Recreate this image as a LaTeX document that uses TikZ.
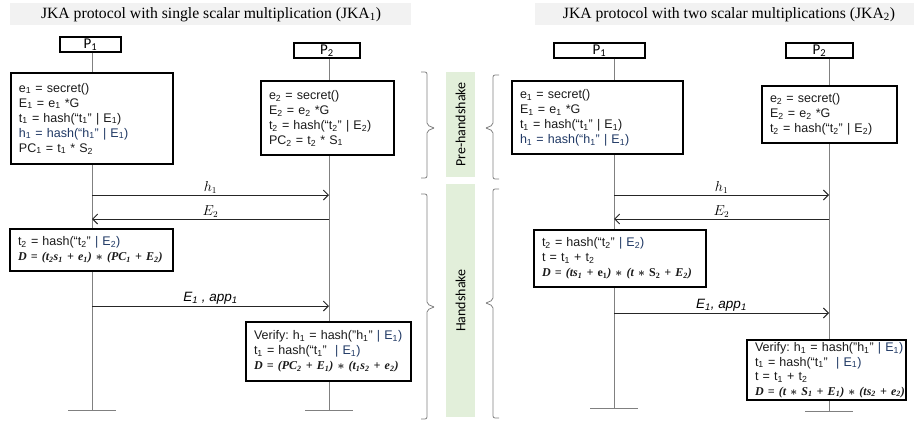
\documentclass[tikz,border=0pt]{standalone}
\usepackage[no-math]{fontspec}
\setmainfont{Liberation Sans}
\newfontfamily\titlefont{Liberation Serif}
\newfontfamily\mfont{Liberation Serif}
\newfontfamily\calfont{Carlito}
\usetikzlibrary{arrows.meta}
\definecolor{navy}{HTML}{1F3864}
\definecolor{bandgray}{HTML}{F2F2F2}
\definecolor{lightgreen}{HTML}{E2EFDA}
\definecolor{lifegray}{HTML}{808080}
\definecolor{txt}{HTML}{1A1A1A}
\newcommand{\ts}[1]{\textsubscript{#1}}
\newcommand{\mb}[1]{\mbox{#1}}
\newcommand{\nv}[1]{\textcolor{navy}{#1}}
\newcommand{\fx}[1]{\mbox{\mfont\bfseries\itshape\fontsize{12}{15}\selectfont #1}}
\newcommand{\st}{{\upshape\boldmath$\ast$}}
\frenchspacing
\begin{document}
\begin{tikzpicture}[x=1pt,y=-1pt,
  pbox/.style={draw=black, fill=white, line width=1.1pt, inner xsep=8pt, inner ysep=0pt, align=left, font=\fontsize{12.5}{15}\selectfont, text=txt},
  actor/.style={draw=black, fill=white, line width=1.1pt, inner sep=0pt, minimum height=15pt, font=\calfont\fontsize{15}{15}\selectfont},
  life/.style={draw=lifegray, line width=0.9pt},
  msg/.style={draw=black!85, line width=0.9pt, -{Straight Barb[length=5pt,width=10pt]}},
  mlabel/.style={font=\fontsize{13.5}{13.5}\selectfont, inner sep=1pt, above},
  brace/.style={draw=lifegray, line width=0.8pt, rounded corners=2pt},
  title/.style={font=\titlefont\fontsize{15.7}{16}\selectfont, inner sep=0pt},
  phase/.style={fill=lightgreen, draw=none, font=\calfont\fontsize{14}{14}\selectfont, rotate=90, inner sep=0pt}
]
\useasboundingbox (0,0) rectangle (914,421);
% titles
\fill[bandgray] (10,3) rectangle (411,25);
\node[title] (T1) at (211,14.5) {JKA protocol with single scalar multiplication (JKA\textsubscript{1})};
\fill[bandgray] (535,3) rectangle (914,25);
\node[title] (T2) at (729,14.5) {JKA protocol with two scalar multiplications (JKA\textsubscript{2})};
% phases
\node[phase, minimum width=105pt, minimum height=29pt] (pre) at (460.5,124.5) {Pre-handshake};
\node[phase, minimum width=233pt, minimum height=29pt] (hs) at (460.5,300.5) {Handshake};
% braces
\draw[brace] (421,72) -- (427,72) -- (427,125) -- (434,128);
\draw[brace] (434,128) -- (427,131) -- (427,178) -- (421,178);
\draw[brace] (421,194) -- (427,194) -- (427,304) -- (434,307);
\draw[brace] (434,307) -- (427,310) -- (427,419) -- (421,419);
\draw[brace] (499,75) -- (493,75) -- (493,125) -- (486,128);
\draw[brace] (486,128) -- (493,131) -- (493,179) -- (499,179);
\draw[brace] (499,189) -- (493,189) -- (493,300) -- (486,303);
\draw[brace] (486,303) -- (493,306) -- (493,418) -- (499,418);
% actors
\node[actor, minimum width=61pt] (L1) at (90.5,44.5) {P\ts{1}};
\node[actor, minimum width=66pt] (L2) at (327,50.5) {P\ts{2}};
\node[actor, minimum width=91pt] (R1) at (599.5,50.5) {P\ts{1}};
\node[actor, minimum width=67pt] (R2) at (819.5,50.5) {P\ts{2}};
% lifelines
\coordinate (L1b) at (92,410);
\coordinate (L2b) at (329,410);
\coordinate (R1b) at (614,408);
\coordinate (R2b) at (829,411);
\draw[life] (L1.south -| L1b) -- (L1b);
\draw[life] (L2.south -| L2b) -- (L2b);
\draw[life] (R1.south -| R1b) -- (R1b);
\draw[life] (R2.south -| R2b) -- (R2b);
\draw[life] ([xshift=-24pt]L1b) -- ([xshift=24pt]L1b);
\draw[life] ([xshift=-24pt]L2b) -- ([xshift=24pt]L2b);
\draw[life] ([xshift=-24pt]R1b) -- ([xshift=24pt]R1b);
\draw[life] ([xshift=-24pt]R2b) -- ([xshift=24pt]R2b);
% messages left
\coordinate (m1a) at (92,195); \coordinate (m1b) at (329,195);
\coordinate (m2a) at (329,219); \coordinate (m2b) at (92,219);
\coordinate (m3a) at (92,306); \coordinate (m3b) at (329,306);
\draw[msg] (m1a) -- node[mlabel]{$h_1$} (m1b);
\draw[msg] (m2a) -- node[mlabel]{$E_2$} (m2b);
\draw[msg] (m3a) -- node[mlabel]{\itshape E\ts{1} , app\ts{1}} (m3b);
% messages right
\coordinate (m4a) at (614,195); \coordinate (m4b) at (829,195);
\coordinate (m5a) at (829,219); \coordinate (m5b) at (614,219);
\coordinate (m6a) at (614,313); \coordinate (m6b) at (829,313);
\draw[msg] (m4a) -- node[mlabel]{$h_1$} (m4b);
\draw[msg] (m5a) -- node[mlabel]{$E_2$} (m5b);
\draw[msg] (m6a) -- node[mlabel]{\itshape E\ts{1}, app\ts{1}} (m6b);
% left boxes
\node[pbox, text width=146pt, minimum height=91pt] (bA) at (92,118.5)
 {\mb{e\ts{1} = secret()}\\ \mb{E\ts{1} = e\ts{1} *G}\\ \mb{t\ts{1} = hash(“t\ts{1}” | E\ts{1})}\\ \mb{\nv{h\ts{1} = hash(“h\ts{1}” | E\ts{1})}}\\ \mb{PC\ts{1} = t\ts{1} * S\ts{2}}};
\node[pbox, text width=117pt, minimum height=74pt] (bB) at (327.5,118)
 {\mb{e\ts{2} = secret()}\\ \mb{E\ts{2} = e\ts{2} *G}\\ \mb{t\ts{2} = hash(“t\ts{2}” | E\ts{2})}\\ \mb{PC\ts{2} = t\ts{2} * S\ts{1}}};
\node[pbox, text width=147pt, minimum height=42pt] (bC) at (91.5,250)
 {\mb{t\ts{2} = hash(“t\ts{2}” \nv{| E\ts{2})}}\\ \fx{D = (t\ts{2}s\ts{1} + e\ts{1}) \st{} (PC\ts{1} + E\ts{2})}};
\node[pbox, text width=149pt, minimum height=59pt] (bD) at (328.5,351.5)
 {\mb{Verify: h\ts{1} = hash(”h\ts{1}” \nv{| E\ts{1})}}\\ \mb{t\ts{1} = hash(“t\ts{1}” \ \nv{| E\ts{1})}}\\ \fx{D = (PC\ts{2} + E\ts{1}) \st{} (t\ts{1}s\ts{2} + e\ts{2})}};
% right boxes
\node[pbox, text width=155pt, minimum height=73pt] (rA) at (597.5,117.5)
 {\mb{e\ts{1} = secret()}\\ \mb{E\ts{1} = e\ts{1} *G}\\ \mb{t\ts{1} = hash(“t\ts{1}” | E\ts{1})}\\ \mb{\nv{h\ts{1} = hash(“h\ts{1}” | E\ts{1})}}};
\node[pbox, text width=119pt, minimum height=57pt] (rB) at (829.5,114.5)
 {\mb{e\ts{2} = secret()}\\ \mb{E\ts{2} = e\ts{2} *G}\\ \mb{t\ts{2} = hash(“t\ts{2}” | E\ts{2})}};
\node[pbox, text width=156pt, minimum height=57pt] (rC) at (620,258.5)
 {\mb{t\ts{2} = hash(“t\ts{2}” \nv{| E\ts{2})}}\\ \mb{t = t\ts{1} + t\ts{2}}\\ \fx{D = (ts\ts{1} + {\upshape e\ts{1}}) \st{} (t \st{} {\upshape S\ts{2}} + E\ts{2})}};
\node[pbox, text width=143pt, minimum height=60pt, font=\fontsize{12.5}{14.5}\selectfont] (rD) at (826.5,370)
 {\mb{Verify: h\ts{1} = hash(”h\ts{1}” \nv{| E\ts{1})}}\\ \mb{t\ts{1} = hash(“t\ts{1}” \ \nv{| E\ts{1})}}\\ \mb{t = t\ts{1} + t\ts{2}}\\ \fx{D = (t \st{} S\ts{1} + E\ts{1}) \st{} (ts\ts{2} + e\ts{2})}};
\end{tikzpicture}
\end{document}
